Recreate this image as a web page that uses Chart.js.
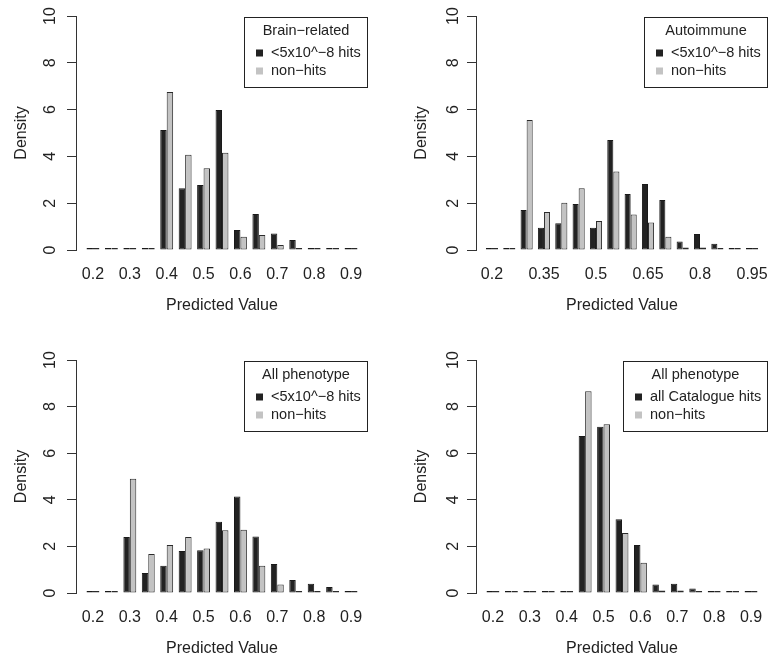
<!DOCTYPE html>
<html>
<head>
<meta charset="utf-8">
<script src="https://cdn.jsdelivr.net/npm/chart.js@4.4.0/dist/chart.umd.min.js"></script>
<style>
  html, body { margin: 0; padding: 0; background: #fff; }
  #wrap { position: relative; width: 769px; height: 659px; }
  #wrap canvas { position: absolute; }
</style>
</head>
<body>
<div id="wrap">
  <canvas id="c1" width="385" height="330" style="left:0;top:0"></canvas>
  <canvas id="c2" width="384" height="330" style="left:385px;top:0"></canvas>
  <canvas id="c3" width="385" height="329" style="left:0;top:330px"></canvas>
  <canvas id="c4" width="384" height="329" style="left:385px;top:330px"></canvas>
</div>
<script>
// bins (predicted value) for the three 0.2..0.9 panels and the 0.2..0.95 panel
const bins15 = ['0.2','0.25','0.3','0.35','0.4','0.45','0.5','0.55','0.6','0.65','0.7','0.75','0.8','0.85','0.9'];
const bins16 = ['0.2','0.25','0.3','0.35','0.4','0.45','0.5','0.55','0.6','0.65','0.7','0.75','0.8','0.85','0.9','0.95'];

// density values
const brainHits = [0, 0, 0, 0, 5.13, 2.64, 2.78, 5.98, 0.85, 1.54, 0.71, 0.43, 0, 0, 0];
const brainNon  = [0, 0, 0, 0, 6.75, 4.07, 3.49, 4.16, 0.57, 0.64, 0.21, 0.07, 0, 0, 0];
const autoHits  = [0, 0, 1.71, 0.95, 1.14, 1.97, 0.95, 4.70, 2.39, 2.82, 2.14, 0.36, 0.68, 0.27, 0.02, 0.02];
const autoNon   = [0, 0, 5.56, 1.62, 2.02, 2.64, 1.24, 3.35, 1.52, 1.17, 0.57, 0.11, 0.11, 0.07, 0.01, 0.01];
const allHits   = [0, 0, 2.40, 0.86, 1.17, 1.80, 1.83, 3.06, 4.14, 2.43, 1.24, 0.56, 0.40, 0.26, 0.07];
const allNon    = [0, 0, 4.90, 1.67, 2.06, 2.40, 1.91, 2.69, 2.71, 1.17, 0.36, 0.09, 0.06, 0.03, 0.03];
const catHits   = [0, 0, 0, 0, 0, 6.74, 7.14, 3.17, 2.06, 0.36, 0.40, 0.19, 0.04, 0, 0];
const catNon    = [0, 0, 0, 0, 0, 8.66, 7.24, 2.57, 1.30, 0.11, 0.11, 0.06, 0.01, 0, 0];

const yTicks = [0, 2, 4, 6, 8, 10];
const panelTitles = ['Brain\u2212related', 'Autoimmune', 'All phenotype', 'All phenotype'];
const hitsNames = ['<5x10^\u22128 hits', '<5x10^\u22128 hits', '<5x10^\u22128 hits', 'all Catalogue hits'];
const nonName = 'non\u2212hits';

const FONT = '"Liberation Sans", Arial, Helvetica, sans-serif';
Chart.defaults.font.family = FONT;
Chart.defaults.color = '#222';

// y tick labels turned 90 degrees, like R's default axis style
const yTickLabels = {
  id: 'yTickLabels',
  afterDraw(chart, args, opts) {
    const s = chart.scales.y, ctx = chart.ctx;
    ctx.save();
    ctx.font = '16px ' + FONT;
    ctx.fillStyle = '#222';
    ctx.textAlign = 'center';
    ctx.textBaseline = 'middle';
    s.ticks.forEach(t => {
      ctx.save();
      ctx.translate(s.right - opts.offset, s.getPixelForValue(t.value));
      ctx.rotate(-Math.PI / 2);
      ctx.fillText(String(t.value), 0, 0);
      ctx.restore();
    });
    ctx.restore();
  }
};

// boxed legend with a title, anchored top-right of the plot region
const boxLegend = {
  id: 'boxLegend',
  afterDraw(chart, args, opts) {
    const ctx = chart.ctx, a = chart.chartArea;
    ctx.save();
    ctx.font = '14.5px ' + FONT;
    const sets = chart.data.datasets;
    const tw = Math.max(...sets.map(d => ctx.measureText(d.label).width));
    const w = Math.round(27 + tw + 7);
    const x = Math.round(a.right - w), y = Math.round(a.top + 1), h = 70;
    ctx.strokeStyle = '#222';
    ctx.lineWidth = 1;
    ctx.strokeRect(x + 0.5, y + 0.5, w - 1, h);
    ctx.fillStyle = '#222';
    ctx.textBaseline = 'middle';
    ctx.textAlign = 'center';
    ctx.fillText(opts.title, x + w / 2, y + 14);
    ctx.textAlign = 'left';
    sets.forEach((d, i) => {
      const ry = y + 36 + i * 18;
      ctx.fillStyle = d.backgroundColor;
      ctx.fillRect(x + 12, ry - 3.5, 7, 7);
      ctx.fillStyle = '#222';
      ctx.fillText(d.label, x + 27, ry);
    });
    ctx.restore();
  }
};

function makePanel(id, cats, hits, non, title, hitsName, step, area, tickOffset) {
  const el = document.getElementById(id);
  const W = el.width, H = el.height;
  return new Chart(el, {
    type: 'bar',
    data: {
      datasets: [
        { label: hitsName, data: hits.map((v, i) => ({ x: i, y: v })),
          backgroundColor: '#222222', borderColor: '#1a1a1a' },
        { label: nonName, data: non.map((v, i) => ({ x: i, y: v })),
          backgroundColor: '#c3c3c3', borderColor: '#2b2b2b' }
      ]
    },
    options: {
      responsive: false,
      animation: false,
      events: [],
      layout: { padding: { top: area.top, right: W - area.right, left: 0, bottom: 0 } },
      datasets: {
        bar: { categoryPercentage: 0.7, barPercentage: 1, borderWidth: 1,
               borderSkipped: false, minBarLength: 2 }
      },
      plugins: {
        legend: { display: false },
        tooltip: { enabled: false },
        boxLegend: { title: title },
        yTickLabels: { offset: tickOffset }
      },
      scales: {
        x: {
          type: 'linear',
          offset: false,
          min: -0.92,
          max: cats.length - 1 + 0.92,
          grid: { display: false, drawTicks: false, offset: false },
          border: { display: false },
          afterBuildTicks: s => {
            s.ticks = cats.map((c, i) => ({ value: i })).filter(t => t.value % step === 0);
          },
          ticks: { callback: v => cats[v], autoSkip: false, maxRotation: 0,
                   font: { size: 16 }, color: '#222', padding: 15 },
          title: { display: true, text: 'Predicted Value', font: { size: 16 }, color: '#222',
                   padding: { top: 0, bottom: H - area.bottom - 56 - 9.6 } },
          afterFit: s => {
            s.height = H - area.bottom;
            s.paddingLeft = 0;
            s.paddingRight = 0;
          }
        },
        y: {
          min: 0,
          max: 10,
          afterBuildTicks: s => { s.ticks = yTicks.map(v => ({ value: v })); },
          ticks: { display: false },
          grid: { drawOnChartArea: false, drawTicks: true, tickLength: 9, color: '#333' },
          border: { display: true, color: '#333' },
          title: { display: true, text: 'Density', font: { size: 16 }, color: '#222',
                   padding: { top: area.left - 64, bottom: 0 } },
          afterFit: s => {
            s.width = area.left;
            s.paddingTop = 0;
            s.paddingBottom = 0;
          }
        }
      }
    },
    plugins: [yTickLabels, boxLegend]
  });
}

makePanel('c1', bins15, brainHits, brainNon, panelTitles[0], hitsNames[0], 2, { left: 76, right: 368, top: 16, bottom: 250 }, 25);
makePanel('c2', bins16, autoHits, autoNon, panelTitles[1], hitsNames[1], 3, { left: 91, right: 383, top: 16, bottom: 250 }, 22);
makePanel('c3', bins15, allHits, allNon, panelTitles[2], hitsNames[2], 2, { left: 76, right: 368, top: 30, bottom: 263 }, 25);
makePanel('c4', bins15, catHits, catNon, panelTitles[3], hitsNames[3], 2, { left: 91, right: 383, top: 30, bottom: 263 }, 22);
</script>
</body>
</html>
